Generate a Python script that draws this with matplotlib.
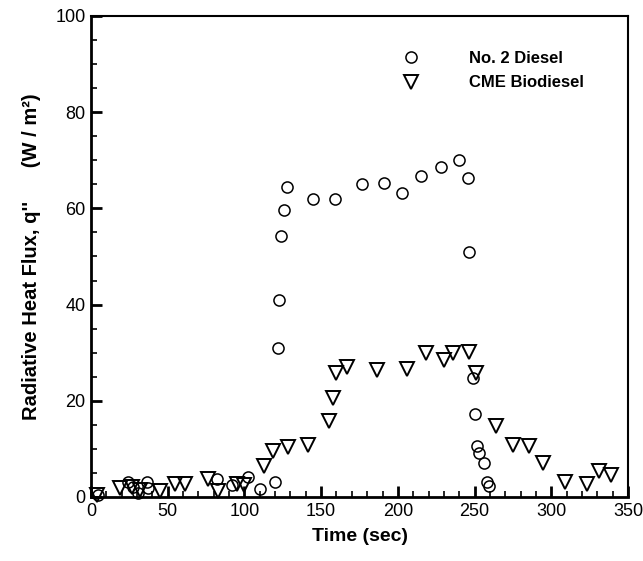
import numpy as np
import matplotlib
matplotlib.use("Agg")
import matplotlib.pyplot as plt
from matplotlib.ticker import MultipleLocator

plt.rcParams['font.family'] = ['Liberation Sans', 'DejaVu Sans']

# ---------- data ----------
diesel_t = [4.8, 24.3, 27.6, 30.8, 36.2, 37.4, 81.9, 91.7, 102.1, 110.2, 120.0,
            121.7, 122.8, 123.6, 125.8, 128.0, 144.9, 159.3, 176.4, 191.0,
            202.5, 215.1, 228.2, 239.7, 246.0, 246.6, 248.8, 250.3, 251.8,
            253.1, 256.2, 258.0, 259.7]
diesel_q = [0.4, 3.2, 2.1, 0.8, 3.2, 1.8, 3.7, 2.5, 4.2, 1.7, 3.2,
            30.9, 41.0, 54.3, 59.7, 64.5, 62.0, 62.0, 65.1, 65.3,
            63.3, 66.7, 68.7, 70.0, 66.4, 51.0, 24.7, 17.3, 10.6,
            9.2, 7.1, 3.2, 2.3]

bio_t = [4.0, 18.9, 26.5, 32.0, 45.0, 54.5, 61.3, 76.5, 82.6, 95.0, 100.0,
         112.8, 118.4, 128.2, 141.2, 155.2, 158.0, 159.5, 167.1, 186.2,
         206.2, 218.4, 230.3, 236.2, 246.6, 250.8, 263.8, 274.9, 285.7,
         294.9, 309.0, 323.5, 331.4, 339.0]
bio_q = [0.5, 1.8, 2.0, 1.5, 1.2, 2.8, 2.8, 3.7, 1.2, 2.6, 2.4,
         6.4, 9.6, 10.3, 10.8, 15.7, 20.5, 25.7, 27.1, 26.5,
         26.7, 30.0, 28.5, 30.0, 30.2, 25.7, 14.8, 10.8, 10.6,
         7.0, 3.2, 2.7, 5.4, 4.6]

# ---------- plot ----------
fig = plt.figure(figsize=(6.43, 5.61), dpi=100)
ax = fig.add_axes([0.1415, 0.1141, 0.8352, 0.8574])

ax.plot(diesel_t, diesel_q, 'o', mfc='none', mec='black', ms=8, mew=1.1,
        label='No. 2 Diesel', clip_on=False)
ax.plot(bio_t, bio_q, 'v', mfc='none', mec='black', ms=9.5, mew=1.4,
        label='CME Biodiesel', clip_on=False)

ax.set_xlim(0, 350)
ax.set_ylim(0, 100)
ax.xaxis.set_major_locator(MultipleLocator(50))
ax.xaxis.set_minor_locator(MultipleLocator(10))
ax.yaxis.set_major_locator(MultipleLocator(20))
ax.yaxis.set_minor_locator(MultipleLocator(5))
ax.tick_params(which='major', direction='in', length=8, width=2,
               labelsize=13, top=False, right=False, pad=4)
ax.tick_params(which='minor', direction='in', length=4, width=1.2,
               top=False, right=False)
for s in ax.spines.values():
    s.set_linewidth(2)
ax.spines['top'].set_linewidth(1.5)
ax.spines['right'].set_linewidth(1.5)

ax.set_xlabel('Time (sec)', fontsize=14, fontweight='bold', labelpad=6)
ax.set_ylabel("Radiative Heat Flux, q''      (W / m\u00b2)", fontsize=14.5,
              fontweight='bold', labelpad=10)

ax.legend(loc='upper left', bbox_to_anchor=(0.536, 0.958), frameon=False,
          handletextpad=2.5, labelspacing=0.55,
          prop={'weight': 'bold', 'size': 12})

fig.savefig('out.png', dpi=100)
